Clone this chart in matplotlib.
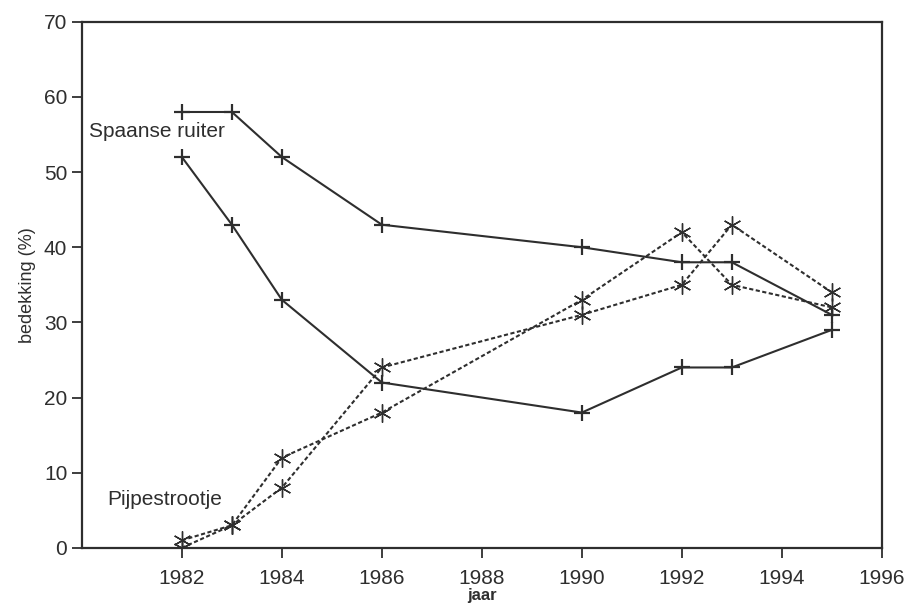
import matplotlib.pyplot as plt

# jaren en bedekking (%)
jaren = [1982, 1983, 1984, 1986, 1990, 1992, 1993, 1995]

spaanse_a = [58, 58, 52, 43, 40, 38, 38, 31]
spaanse_b = [52, 43, 33, 22, 18, 24, 24, 29]
pijpe_a = [1, 3, 12, 18, 33, 42, 35, 32]
pijpe_b = [0, 3, 8, 24, 31, 35, 43, 34]

xticks = [1982, 1984, 1986, 1988, 1990, 1992, 1994, 1996]
yticks = [0, 10, 20, 30, 40, 50, 60, 70]

plt.rcParams["font.family"] = ["Liberation Sans", "DejaVu Sans"]
ink = "#2e2e2e"

fig = plt.figure(figsize=(9.1, 6.06), dpi=100)
ax = fig.add_axes([0.090, 0.096, 0.879, 0.868])

# spaanse ruiter: doorgetrokken lijn met plusjes
for ys in (spaanse_a, spaanse_b):
    ax.plot(jaren, ys, color=ink, lw=1.5, marker="+", ms=12, mew=1.6)

# pijpestrootje: stippellijn met sterretjes
ast = (6, 2, 0)
for ys in (pijpe_a, pijpe_b):
    ax.plot(jaren, ys, color=ink, lw=1.5, ls=(0, (2, 1.2)), marker=ast, ms=13, mew=1.0)

ax.text(1980.15, 55.4, "Spaanse ruiter", fontsize=15, color=ink, va="center")
ax.text(1980.5, 6.4, "Pijpestrootje", fontsize=15, color=ink, va="center")

ax.set_xlim(1980, 1996)
ax.set_ylim(0, 70)
ax.set_xticks(xticks)
ax.set_yticks(yticks)
ax.tick_params(direction="out", length=7, width=1.3, colors=ink, labelsize=15)
ax.tick_params(axis="x", pad=8)
for s in ax.spines.values():
    s.set_color(ink)
    s.set_linewidth(1.6)

ax.set_xlabel("jaar", fontsize=12, fontweight="bold", color=ink, labelpad=0)
ax.set_ylabel("bedekking (%)", fontsize=13, color=ink, labelpad=6)

fig.savefig("out.png", dpi=100)
